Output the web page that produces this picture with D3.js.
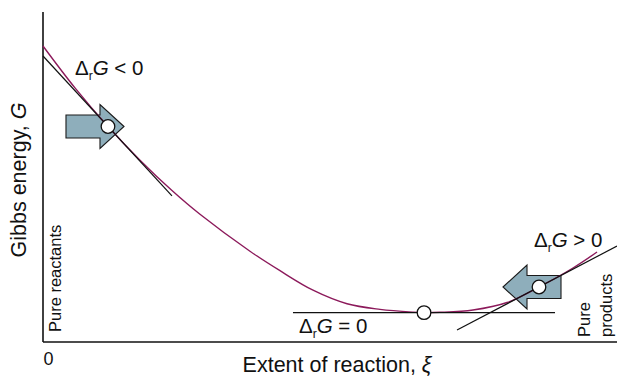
<!DOCTYPE html>
<html>
<head>
<meta charset="utf-8">
<script src="https://cdn.jsdelivr.net/npm/d3@7"></script>
<style>
  html, body { margin: 0; padding: 0; background: #fff; }
  svg text { font-family: "Liberation Sans", Arial, Helvetica, sans-serif; fill: #111; }
</style>
</head>
<body>
<svg id="chart" width="617" height="376"></svg>
<script>
// ---- data (extent of reaction xi, Gibbs energy G, arbitrary units) ----
const curveXi = [0, 0.0557, 0.1132, 0.169, 0.2247, 0.2735, 0.3606, 0.4129, 0.4704, 0.5296, 0.5871, 0.6446, 0.6638, 0.6916, 0.7491, 0.8084, 0.8641, 0.9233, 0.9652];
const curveG  = [0.897, 0.770, 0.653, 0.551, 0.459, 0.387, 0.275, 0.216, 0.157, 0.116, 0.099, 0.0905, 0.089, 0.090, 0.097, 0.1197, 0.1667, 0.2242, 0.2727];

// tangent points
const tangentXi    = [0.1132, 0.6638, 0.8641];
const tangentG     = [0.653, 0.089, 0.1667];
const tangentSlope = [-1.887, 0, 0.913];
const tangentFrom  = [0, 0.4355, 0.7213];
const tangentTo    = [0.2247, 0.892, 1.0];

// arrows (tip position along xi, direction)
const arrowTipXi = [0.1411, 0.8014];
const arrowPoint = [0, 2];       // index of tangent point the arrow sits on
const arrowDir   = [1, -1];

const labels = ["< 0", "= 0", "> 0"];
const tickLabels = ["0"];

// ---- layout ----
const svg = d3.select("#chart");
const x = d3.scaleLinear().domain([0, 1]).range([43, 617]);
const y = d3.scaleLinear().domain([0, 1]).range([342, 12]);

// axes
svg.append("g")
  .attr("transform", `translate(0,${y(0)})`)
  .call(d3.axisBottom(x).tickValues([0]).tickSize(0).tickPadding(10).tickFormat((d, i) => tickLabels[i]))
  .call(g => g.select(".domain").attr("stroke", "#111").attr("stroke-width", 1.6).attr("d", `M${x(0)},0H${x(1)}`))
  .call(g => g.selectAll(".tick text").attr("text-anchor", "start").attr("font-size", 18).attr("fill", "#111")
           .attr("font-family", "Liberation Sans, Arial, sans-serif").attr("dy", "0.71em").attr("x", 0));

svg.append("g")
  .attr("transform", `translate(${x(0)},0)`)
  .call(d3.axisLeft(y).tickValues([]).tickSize(0))
  .call(g => g.select(".domain").attr("stroke", "#111").attr("stroke-width", 1.6).attr("d", `M0,${y(1)}V${y(0)}`));

// arrows
const headLen = 24, headHalf = 22, bodyHalf = 11.5, bodyLen = 34;
arrowTipXi.forEach((tx, i) => {
  const tipX = x(tx), cy = y(tangentG[arrowPoint[i]]), d = arrowDir[i];
  const bx = tipX - d * headLen, ex = bx - d * bodyLen;
  const pts = [
    [tipX, cy], [bx, cy - headHalf], [bx, cy - bodyHalf], [ex, cy - bodyHalf],
    [ex, cy + bodyHalf], [bx, cy + bodyHalf], [bx, cy + headHalf]
  ];
  svg.append("path")
    .attr("d", d3.line()(pts) + "Z")
    .attr("fill", "#8eaebb")
    .attr("stroke", "#1a1a1a")
    .attr("stroke-width", 1.1)
    .attr("stroke-linejoin", "miter");
});

// curve
const line = d3.line().x(d => x(d[0])).y(d => y(d[1])).curve(d3.curveCatmullRom.alpha(0.5));
svg.append("path")
  .datum(curveXi.map((v, i) => [v, curveG[i]]))
  .attr("d", line)
  .attr("fill", "none")
  .attr("stroke", "#8c1a5b")
  .attr("stroke-width", 1.4);

// tangents
tangentXi.forEach((t, i) => {
  const g0 = tangentG[i], s = tangentSlope[i];
  svg.append("line")
    .attr("x1", x(tangentFrom[i])).attr("y1", y(g0 + s * (tangentFrom[i] - t)))
    .attr("x2", x(tangentTo[i])).attr("y2", y(g0 + s * (tangentTo[i] - t)))
    .attr("stroke", "#111").attr("stroke-width", 1.2);
});

// points
svg.selectAll("circle.pt")
  .data(tangentXi)
  .join("circle")
  .attr("class", "pt")
  .attr("cx", d => x(d))
  .attr("cy", (d, i) => y(tangentG[i]))
  .attr("r", 6.8)
  .attr("fill", "#fff")
  .attr("stroke", "#111")
  .attr("stroke-width", 1.3);

// ΔrG labels
const labelPos = [[75, 75], [299, 333], [534, 247]];
labels.forEach((lab, i) => {
  const t = svg.append("text")
    .attr("x", labelPos[i][0]).attr("y", labelPos[i][1])
    .attr("font-size", 20.5);
  t.append("tspan").text("Δ");
  t.append("tspan").text("r").attr("font-size", 12).attr("dy", 5);
  t.append("tspan").text("G").attr("font-style", "italic").attr("dy", -5);
  t.append("tspan").text(" " + lab);
});

// axis titles
svg.append("text")
  .attr("transform", "translate(26,180) rotate(-90)")
  .attr("text-anchor", "middle")
  .attr("font-size", 21.5)
  .html('Gibbs energy, <tspan font-style="italic">G</tspan>');

svg.append("text")
  .attr("x", 337).attr("y", 372)
  .attr("text-anchor", "middle")
  .attr("font-size", 21.5)
  .html('Extent of reaction, <tspan font-style="italic">ξ</tspan>');

// end labels
svg.append("text")
  .attr("transform", "translate(61,332) rotate(-90)")
  .attr("font-size", 16.5)
  .text("Pure reactants");

svg.append("text")
  .attr("transform", "translate(590,337) rotate(-90)")
  .attr("font-size", 16.5)
  .text("Pure");
svg.append("text")
  .attr("transform", "translate(612,337) rotate(-90)")
  .attr("font-size", 16.5)
  .text("products");
</script>
</body>
</html>
